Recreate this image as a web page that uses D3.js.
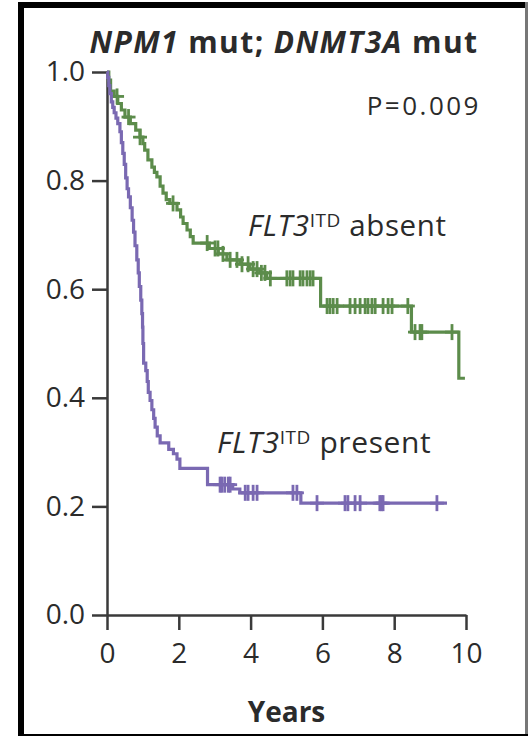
<!DOCTYPE html>
<html>
<head>
<meta charset="utf-8">
<script src="https://cdn.jsdelivr.net/npm/d3@7"></script>
<style>
  html, body { margin: 0; padding: 0; background: #fff; }
  svg { display: block; font-family: "Open Sans", sans-serif; }
</style>
</head>
<body>
<svg id="chart" width="530" height="736"></svg>
<script>
// tick values
const yearTicks = [0, 2, 4, 6, 8, 10]
const survivalTicks = [0, 0.2, 0.4, 0.6, 0.8, 1.0]

// FLT3-ITD absent: [time of event, survival after it]
const absentSteps = [
  [0.05, 0.985], [0.1, 0.965], [0.2, 0.955], [0.3, 0.942], [0.4, 0.93], [0.5, 0.917],
  [0.65, 0.905], [0.8, 0.893], [0.92, 0.88], [1.0, 0.868], [1.05, 0.856], [1.14, 0.838],
  [1.25, 0.825], [1.32, 0.815], [1.39, 0.807], [1.48, 0.79], [1.56, 0.777], [1.65, 0.765],
  [1.75, 0.758], [1.95, 0.746], [2.05, 0.733], [2.12, 0.721], [2.23, 0.709], [2.32, 0.697],
  [2.4, 0.685], [2.85, 0.675], [3.1, 0.665], [3.34, 0.654], [3.7, 0.646], [3.98, 0.637],
  [4.26, 0.63], [4.45, 0.62], [5.95, 0.569], [8.48, 0.521], [9.8, 0.436]
]
const absentCensored = [
  0.28, 0.6, 0.92, 1.84, 2.79, 3.01, 3.09, 3.23, 3.43, 3.62, 3.76, 3.93, 4.07, 4.18, 4.3,
  4.4, 4.55, 5.01, 5.1, 5.18, 5.38, 5.46, 5.57, 5.66, 5.74, 6.13, 6.21, 6.3, 6.41, 6.77,
  6.91, 7.05, 7.19, 7.27, 7.38, 7.47, 7.69, 7.83, 7.94, 8.38, 8.58, 8.72, 8.77, 9.61
]
const absentEnd = 9.97

// FLT3-ITD present
const presentSteps = [
  [0.02, 0.99], [0.05, 0.975], [0.08, 0.96], [0.12, 0.945], [0.16, 0.935], [0.2, 0.925],
  [0.25, 0.915], [0.3, 0.905], [0.36, 0.89], [0.4, 0.87], [0.44, 0.85], [0.48, 0.83],
  [0.52, 0.805], [0.56, 0.785], [0.6, 0.77], [0.65, 0.75], [0.7, 0.727], [0.74, 0.705],
  [0.78, 0.68], [0.83, 0.654], [0.87, 0.63], [0.9, 0.605], [0.94, 0.58], [0.97, 0.555],
  [0.99, 0.53], [1.0, 0.5], [1.02, 0.464], [1.08, 0.45], [1.12, 0.43], [1.15, 0.41],
  [1.2, 0.395], [1.25, 0.378], [1.3, 0.362], [1.34, 0.346], [1.4, 0.33], [1.48, 0.317],
  [1.72, 0.305], [1.85, 0.297], [1.95, 0.287], [2.03, 0.27], [2.8, 0.24], [3.5, 0.232],
  [3.7, 0.225], [5.4, 0.206]
]
const presentCensored = [
  3.15, 3.2, 3.28, 3.38, 3.43, 3.85, 3.93, 4.07, 4.18, 5.18, 5.29, 5.85, 6.63, 6.71,
  6.91, 7.05, 7.6, 7.65, 7.69, 9.19
]
const presentEnd = 9.47

const green = "#5c8c4b"
const purple = "#7a69b2"
const ink = "#2b2b2b"

const svg = d3.select("#chart")

// frame
svg.append("rect").attr("width", 530).attr("height", 736).attr("fill", "#fff")
svg.append("line").attr("x1", 21).attr("x2", 21).attr("y1", 2).attr("y2", 736)
  .attr("stroke", "#000").attr("stroke-width", 6)
svg.append("line").attr("x1", 18).attr("x2", 526).attr("y1", 5).attr("y2", 5)
  .attr("stroke", "#000").attr("stroke-width", 6)
svg.append("line").attr("x1", 526.5).attr("x2", 526.5).attr("y1", 2).attr("y2", 736)
  .attr("stroke", "#777").attr("stroke-width", 3)
svg.append("line").attr("x1", 18).attr("x2", 528).attr("y1", 735).attr("y2", 735)
  .attr("stroke", "#000").attr("stroke-width", 2)

const x = d3.scaleLinear().domain([0, 10]).range([107, 466])
const y = d3.scaleLinear().domain([0, 1]).range([615, 72])

// axes
const xAxis = svg.append("g")
  .attr("transform", "translate(0," + y(0) + ")")
  .call(d3.axisBottom(x).tickValues(yearTicks).tickSize(15).tickSizeOuter(0).tickPadding(13))
const yAxis = svg.append("g")
  .attr("transform", "translate(" + x(0) + ",0)")
  .call(d3.axisLeft(y).tickValues(survivalTicks).tickSize(15).tickSizeOuter(0).tickPadding(7)
    .tickFormat(d3.format(".1f")))

;[xAxis, yAxis].forEach(g => {
  g.select(".domain").attr("stroke", "#3a3a3a").attr("stroke-width", 2.5)
  g.selectAll(".tick line").attr("stroke", "#3a3a3a").attr("stroke-width", 2.5)
  g.selectAll(".tick text").attr("fill", ink).attr("font-size", 28)
    .attr("font-family", "Open Sans, sans-serif")
})

// survival curve helpers
function survivalAt(steps, t) {
  let s = 1
  steps.forEach(d => { if (d[0] <= t) s = d[1] })
  return s
}

const line = d3.line()
  .x(d => x(d[0]))
  .y(d => y(d[1]))
  .curve(d3.curveStepAfter)

function drawCurve(steps, censored, end, color) {
  const pts = [[0, 1]].concat(steps)
  pts.push([end, steps[steps.length - 1][1]])
  svg.append("path")
    .datum(pts)
    .attr("fill", "none")
    .attr("stroke", color)
    .attr("stroke-width", 3.2)
    .attr("d", line)

  const marks = svg.append("g")
  censored.forEach(t => {
    const cx = x(t), cy = y(survivalAt(steps, t))
    marks.append("line").attr("x1", cx).attr("x2", cx).attr("y1", cy - 8).attr("y2", cy + 8)
      .attr("stroke", color).attr("stroke-width", 2.8)
    marks.append("line").attr("x1", cx - 7).attr("x2", cx + 7).attr("y1", cy).attr("y2", cy)
      .attr("stroke", color).attr("stroke-width", 2.8)
  })
}

drawCurve(absentSteps, absentCensored, absentEnd, green)
drawCurve(presentSteps, presentCensored, presentEnd, purple)

// title
const title = svg.append("text")
  .attr("x", 284).attr("y", 53)
  .attr("text-anchor", "middle")
  .attr("font-size", 30).attr("font-weight", "bold").attr("fill", ink)
  .attr("letter-spacing", 1.4)
title.append("tspan").attr("font-style", "italic").text("NPM1")
title.append("tspan").text(" mut; ")
title.append("tspan").attr("font-style", "italic").text("DNMT3A")
title.append("tspan").text(" mut")

svg.append("text")
  .attr("x", 481).attr("y", 115)
  .attr("text-anchor", "end")
  .attr("font-size", 26).attr("fill", ink)
  .attr("letter-spacing", 2.5)
  .text("P=0.009")

// curve labels
function curveLabel(px, py, word, size) {
  const t = svg.append("text").attr("x", px).attr("y", py)
    .attr("font-size", size).attr("fill", ink).attr("letter-spacing", 0.6)
  t.append("tspan").attr("font-style", "italic").text("FLT3")
  t.append("tspan").attr("font-size", 19).attr("dy", -9).text("ITD")
  t.append("tspan").attr("dy", 9).text(" " + word)
}
curveLabel(248, 236, "absent", 29.5)
curveLabel(217, 453, "present", 30)

// x label
svg.append("text")
  .attr("x", (x(0) + x(10)) / 2).attr("y", 722)
  .attr("text-anchor", "middle")
  .attr("font-size", 28).attr("font-weight", "bold").attr("fill", ink)
  .text("Years")
</script>
</body>
</html>
